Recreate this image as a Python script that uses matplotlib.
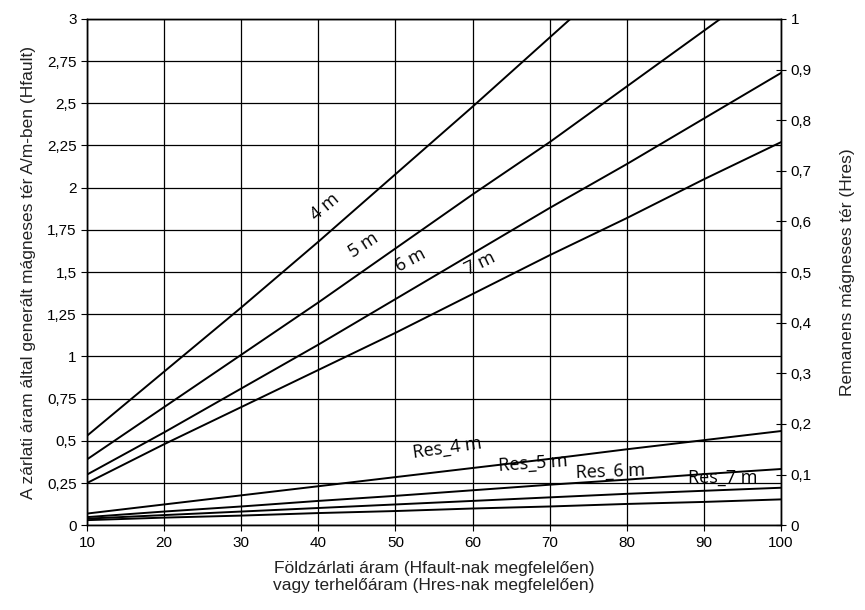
import matplotlib
matplotlib.use("Agg")
import matplotlib.pyplot as plt
from matplotlib.ticker import FuncFormatter, MultipleLocator

# current (A)
current = [10, 20, 30, 40, 50, 60, 70, 80, 90, 100]

# Hfault, left axis (A/m)
h_4m = [0.53, 0.91, 1.29, 1.68, 2.08, 2.48, 2.89, 3.30, 3.72, 4.15]
h_5m = [0.39, 0.70, 1.01, 1.32, 1.64, 1.96, 2.27, 2.60, 2.93, 3.26]
h_6m = [0.30, 0.55, 0.81, 1.07, 1.34, 1.61, 1.88, 2.14, 2.41, 2.68]
h_7m = [0.25, 0.48, 0.70, 0.92, 1.14, 1.37, 1.60, 1.82, 2.05, 2.27]

# Hres, right axis
res_4m = [0.023, 0.041, 0.059, 0.077, 0.095, 0.113, 0.131, 0.150, 0.168, 0.186]
res_5m = [0.016, 0.027, 0.037, 0.048, 0.058, 0.069, 0.080, 0.090, 0.101, 0.111]
res_6m = [0.013, 0.020, 0.027, 0.034, 0.041, 0.048, 0.055, 0.062, 0.068, 0.074]
res_7m = [0.010, 0.015, 0.019, 0.024, 0.028, 0.033, 0.037, 0.042, 0.046, 0.051]

plt.rcParams['font.family'] = ['Liberation Sans', 'DejaVu Sans']


def hu_fmt(v, pos):
    s = f"{v:.2f}".rstrip('0').rstrip('.')
    return s.replace('.', ',')


fig = plt.figure(figsize=(8.65, 6.1), dpi=100)
ax = fig.add_axes([0.1006, 0.139, 0.8024, 0.830])
ax2 = ax.twinx()

for ys in [h_4m, h_5m, h_6m, h_7m]:
    ax.plot(current, ys, color='black', lw=1.4)
for ys in [res_4m, res_5m, res_6m, res_7m]:
    ax2.plot(current, ys, color='black', lw=1.4)

ax.set_xlim(10, 100)
ax.set_ylim(0, 3)
ax2.set_ylim(0, 1)

ax.xaxis.set_major_locator(MultipleLocator(10))
ax.yaxis.set_major_locator(MultipleLocator(0.25))
ax2.yaxis.set_major_locator(MultipleLocator(0.1))
ax.yaxis.set_major_formatter(FuncFormatter(hu_fmt))
ax2.yaxis.set_major_formatter(FuncFormatter(hu_fmt))

ax.grid(True, color='black', lw=0.9)
ax.set_axisbelow(True)
ax.tick_params(axis='both', labelsize=11, length=4, width=0.8, direction='out')
ax2.tick_params(axis='y', labelsize=11, length=7, width=0.8, direction='inout')
for a in (ax, ax2):
    for sp in a.spines.values():
        sp.set_linewidth(1.0)

ax.set_xlabel("Földzárlati áram (Hfault-nak megfelelően)\nvagy terhelőáram (Hres-nak megfelelően)",
              fontsize=12.5, color='#222222', labelpad=8)
ax.set_ylabel("A zárlati áram által generált mágneses tér A/m-ben (Hfault)",
              fontsize=12.5, color='#222222', labelpad=8)
ax2.set_ylabel("Remanens mágneses tér (Hres)", fontsize=12.5, color='#222222', labelpad=20)

# curve labels
lab_font = dict(fontsize=13, family=['Open Sans', 'DejaVu Sans'], weight='medium',
                color='black', ha='center', va='center')
ax.text(40.9, 1.885, "4 m", rotation=40, **lab_font)
ax.text(45.8, 1.66, "5 m", rotation=33, **lab_font)
ax.text(51.9, 1.57, "6 m", rotation=28, **lab_font)
ax.text(61.0, 1.55, "7 m", rotation=26, **lab_font)
ax.text(56.7, 0.46, "Res_4 m", rotation=8, **lab_font)
ax.text(67.8, 0.367, "Res_5 m", rotation=4, **lab_font)
ax.text(77.8, 0.315, "Res_6 m", rotation=2, **lab_font)
ax.text(92.4, 0.28, "Res_7 m", rotation=0, **lab_font)

fig.savefig("out.png", dpi=100)
